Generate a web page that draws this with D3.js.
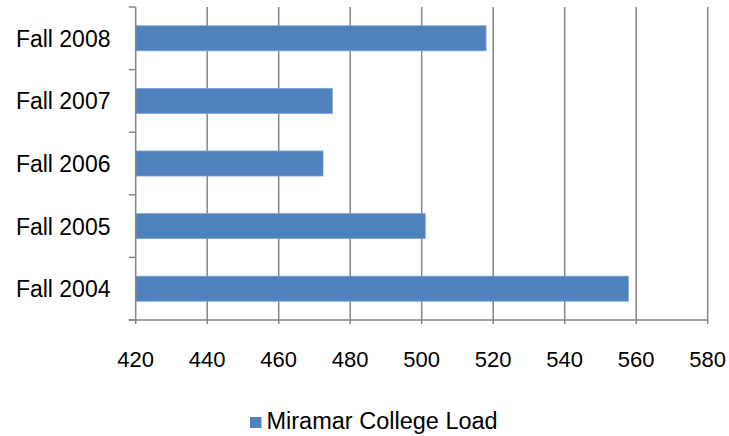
<!DOCTYPE html>
<html><head><meta charset="utf-8">
<script src="https://cdn.jsdelivr.net/npm/d3@7"></script>
<style>body{margin:0;background:#fff}svg{display:block}</style>
</head><body>
<svg id="c" width="729" height="436"></svg>
<script>
const categories = ["Fall 2008","Fall 2007","Fall 2006","Fall 2005","Fall 2004"];
const values = [518, 475, 472.4, 501, 557.8];
const xTicks = [420,440,460,480,500,520,540,560,580];
const seriesName = "Miramar College Load";

(function(){
const svg = d3.select("#c");
const pLeft = 135.7, pRight = 707.7, pTop = 7, pBottom = 320;
const x = d3.scaleLinear().domain([420,580]).range([pLeft,pRight]);
const y = d3.scaleBand().domain(categories).range([pTop,pBottom]).paddingInner(0.6).paddingOuter(0.3);
const font = "'Liberation Sans', Arial, sans-serif";
const grid = "#868686";

// gridlines
svg.append("g").selectAll("line").data(xTicks.slice(1)).join("line")
  .attr("x1", d=>x(d)).attr("x2", d=>x(d)).attr("y1", pTop).attr("y2", pBottom+4)
  .attr("stroke", grid).attr("stroke-width", 1.5);

// bars
svg.append("g").selectAll("rect").data(values).join("rect")
  .attr("x", x(420)).attr("y", (d,i)=>y(categories[i]))
  .attr("width", d=>x(d)-x(420)).attr("height", y.bandwidth())
  .attr("fill", "#4F81BD").attr("stroke", "#7FA3D2").attr("stroke-width", 0.8);

// y axis line and tick marks
svg.append("line").attr("x1", pLeft).attr("x2", pLeft).attr("y1", pTop).attr("y2", pBottom+4)
  .attr("stroke", grid).attr("stroke-width", 1.5);
const step = (pBottom-pTop)/categories.length;
svg.append("g").selectAll("line").data(d3.range(categories.length+1)).join("line")
  .attr("x1", pLeft-7).attr("x2", pLeft).attr("y1", d=>pTop+d*step).attr("y2", d=>pTop+d*step)
  .attr("stroke", grid).attr("stroke-width", 1.5);

// x axis line
svg.append("line").attr("x1", pLeft-7).attr("x2", pRight).attr("y1", pBottom).attr("y2", pBottom)
  .attr("stroke", grid).attr("stroke-width", 1.5);

// x tick labels
svg.append("g").selectAll("text").data(xTicks).join("text")
  .attr("x", d=>x(d)).attr("y", 367).attr("text-anchor","middle")
  .attr("font-family", font).attr("font-size", 22).attr("fill","#000").text(d=>d);

// y labels
svg.append("g").selectAll("text").data(categories).join("text")
  .attr("x", 110.5).attr("y", d=>y(d)+y.bandwidth()/2 + 8.5).attr("text-anchor","end")
  .attr("font-family", font).attr("font-size", 23).attr("fill","#000").text(d=>d);

// legend
svg.append("rect").attr("x", 250).attr("y", 417).attr("width", 11.5).attr("height", 11).attr("fill", "#4F81BD");
svg.append("text").attr("x", 266.5).attr("y", 429).attr("font-family", font).attr("font-size", 23.5)
  .attr("fill","#000").text(seriesName);
})();
</script>
</body></html>
